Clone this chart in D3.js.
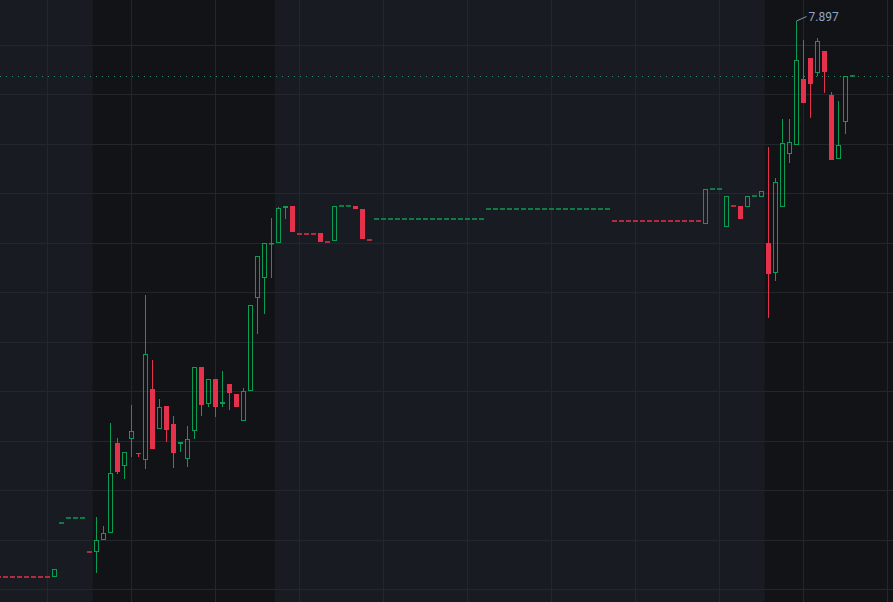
<!DOCTYPE html>
<html><head><meta charset="utf-8">
<script src="https://cdn.jsdelivr.net/npm/d3@7"></script>
<style>html,body{margin:0;padding:0;background:#181b21;overflow:hidden}</style>
</head><body>
<svg id="chart" width="893" height="602"></svg>
<script>
// candle index k runs from -1 to 121
const firstIndex = -1;
const opens = [
 5.648,5.648,5.648,5.648,5.648,5.648,5.648,5.648,
 5.647,5.868,5.888,5.888,5.888,5.748,
 5.748,5.797,5.828,6.189,6.097,6.207,6.149,6.122,6.409,6.246,6.339,6.267,6.188,6.127,6.238,6.498,6.347,6.448,6.347,6.428,6.387,6.278,6.402,6.777,6.857,6.997,6.998,7.141,7.149,
 7.037,7.037,7.037,7.038,7.004,7.006,7.148,7.148,7.149,7.138,7.013,
 7.096,7.096,7.096,7.096,7.096,7.096,7.096,7.096,7.096,7.096,7.096,7.096,7.096,7.096,7.096,7.096,
 7.138,7.138,7.138,7.138,7.138,7.138,7.138,7.138,7.138,7.138,7.138,7.138,7.138,7.138,7.138,7.138,7.138,7.138,
 7.088,7.088,7.088,7.088,7.088,7.088,7.088,7.088,7.088,7.088,7.088,7.088,7.088,
 7.076,7.218,7.218,7.065,7.148,7.148,7.146,7.188,7.187,
 6.998,6.877,7.146,7.358,7.397,7.662,7.747,7.688,7.777,7.597,7.339,7.487,7.676
];
const highs = [
 5.648,5.648,5.648,5.648,5.648,5.648,5.648,5.648,
 5.680,5.868,5.888,5.888,5.888,5.748,
 5.891,5.855,6.270,6.210,6.153,6.344,6.149,6.789,6.525,6.368,6.339,6.300,6.193,6.259,6.497,6.498,6.448,6.448,6.480,6.428,6.387,6.413,6.747,6.948,6.998,7.099,7.145,7.149,7.149,
 7.037,7.037,7.037,7.038,7.004,7.148,7.148,7.148,7.149,7.138,7.013,
 7.096,7.096,7.096,7.096,7.096,7.096,7.096,7.096,7.096,7.096,7.096,7.096,7.096,7.096,7.096,7.096,
 7.138,7.138,7.138,7.138,7.138,7.138,7.138,7.138,7.138,7.138,7.138,7.138,7.138,7.138,7.138,7.138,7.138,7.138,
 7.088,7.088,7.088,7.088,7.088,7.088,7.088,7.088,7.088,7.088,7.088,7.088,7.088,
 7.216,7.218,7.218,7.188,7.148,7.148,7.188,7.188,7.208,
 7.389,7.263,7.500,7.500,7.897,7.820,7.747,7.830,7.777,7.610,7.575,7.676,7.676
];
const lows = [
 5.648,5.648,5.648,5.648,5.648,5.648,5.648,5.648,
 5.647,5.868,5.888,5.888,5.888,5.748,
 5.666,5.797,5.828,6.065,6.045,6.135,6.134,6.085,6.165,6.246,6.195,6.091,6.155,6.095,6.205,6.300,6.335,6.296,6.336,6.325,6.336,6.278,6.402,6.630,6.713,6.857,6.998,7.095,7.045,
 7.037,7.037,7.037,7.005,7.004,7.006,7.148,7.148,7.136,7.015,7.013,
 7.096,7.096,7.096,7.096,7.096,7.096,7.096,7.096,7.096,7.096,7.096,7.096,7.096,7.096,7.096,7.096,
 7.138,7.138,7.138,7.138,7.138,7.138,7.138,7.138,7.138,7.138,7.138,7.138,7.138,7.138,7.138,7.138,7.138,7.138,
 7.088,7.088,7.088,7.088,7.088,7.088,7.088,7.088,7.088,7.088,7.088,7.088,7.088,
 7.076,7.218,7.218,7.065,7.148,7.095,7.146,7.188,7.187,
 6.695,6.846,7.146,7.321,7.397,7.567,7.506,7.675,7.605,7.336,7.339,7.439,7.676
];
const closes = [
 5.648,5.648,5.648,5.648,5.648,5.648,5.648,5.648,
 5.680,5.868,5.888,5.888,5.888,5.748,
 5.797,5.828,6.068,6.074,6.153,6.238,6.144,6.550,6.165,6.337,6.244,6.151,6.193,6.208,6.497,6.345,6.448,6.337,6.357,6.391,6.336,6.402,6.747,6.948,6.998,6.998,7.142,7.149,7.045,
 7.037,7.037,7.037,7.005,7.004,7.148,7.148,7.148,7.136,7.015,7.013,
 7.096,7.096,7.096,7.096,7.096,7.096,7.096,7.096,7.096,7.096,7.096,7.096,7.096,7.096,7.096,7.096,
 7.138,7.138,7.138,7.138,7.138,7.138,7.138,7.138,7.138,7.138,7.138,7.138,7.138,7.138,7.138,7.138,7.138,7.138,
 7.088,7.088,7.088,7.088,7.088,7.088,7.088,7.088,7.088,7.088,7.088,7.088,7.088,
 7.216,7.218,7.218,7.188,7.148,7.095,7.188,7.188,7.208,
 6.875,7.246,7.402,7.407,7.738,7.567,7.641,7.816,7.692,7.336,7.397,7.676,7.676
];
// shaded (out-of-session) ranges, in candle index units
const shadedStarts = [12.5, 108.5];
const shadedEnds = [38.5, 130];
const maxHighLabel = "7.897";
const lastPrice = 7.676;

const W = 893, H = 602;
const svg = d3.select("#chart");
const x = d3.scaleLinear().domain([-1, 121]).range([-1.7, 852.3]);
const y = d3.scaleLinear().domain([5.6, 7.8]).range([589, 45]);

const GREEN = "#0a9b55", RED = "#e5314b";

svg.append("rect").attr("width", W).attr("height", H).attr("fill", "#181b21");
svg.selectAll("rect.shade").data(shadedStarts).join("rect").attr("class","shade")
  .attr("x", (d) => x(d)).attr("y", 0)
  .attr("width", (d, i) => x(shadedEnds[i]) - x(d)).attr("height", H)
  .attr("fill", "#121316");

// grid
const hTicks = d3.range(5.0, 8.21, 0.2);
svg.append("g").selectAll("line").data(hTicks).join("line")
  .attr("x1", 0).attr("x2", W)
  .attr("y1", d => Math.round(y(d)) + 0.5).attr("y2", d => Math.round(y(d)) + 0.5)
  .attr("stroke", "#23262d").attr("stroke-width", 1);
const vTicks = d3.range(6, 140, 12);
svg.append("g").selectAll("line").data(vTicks).join("line")
  .attr("y1", 0).attr("y2", H)
  .attr("x1", d => Math.round(x(d)) + 0.5).attr("x2", d => Math.round(x(d)) + 0.5)
  .attr("stroke", "#23262d").attr("stroke-width", 1);

// build candles
const candles = opens.map((o, i) => ({k: firstIndex + i, o, h: highs[i], l: lows[i], c: closes[i]}));
let prevColor = "red";
candles.forEach((d, i) => {
  if (d.c > d.o) d.dir = "up";
  else if (d.c < d.o) d.dir = "down";
  else if (i > 0 && d.c > candles[i-1].c) d.dir = "up";
  else if (i > 0 && d.c < candles[i-1].c) d.dir = "down";
  else d.dir = prevColor === "up" ? "up" : "down";
  prevColor = d.dir;
  d.flat = (d.h === d.l);
});

// last price dotted line
svg.append("line").attr("x1", 0).attr("x2", W)
  .attr("y1", Math.round(y(lastPrice)) + 0.5).attr("y2", Math.round(y(lastPrice)) + 0.5)
  .attr("stroke", "#2f8a70").attr("stroke-width", 1).attr("stroke-dasharray", "1,5");

const g = svg.append("g");
candles.forEach(d => {
  const cx = Math.round(x(d.k));
  const col = d.dir === "up" ? GREEN : RED;
  if (d.flat) {
    g.append("rect").attr("x", cx - 2).attr("y", Math.round(y(d.c)) - 1)
      .attr("width", 5).attr("height", 2).attr("fill", col).attr("opacity", 0.75);
    return;
  }
  const top = Math.min(y(d.o), y(d.c)), bot = Math.max(y(d.o), y(d.c));
  const yt = Math.round(top), yb = Math.max(Math.round(bot), yt + 1);
  const yh = Math.round(y(d.h)), yl = Math.round(y(d.l));
  if (yh < yt) g.append("line").attr("x1", cx + 0.5).attr("x2", cx + 0.5).attr("y1", yh).attr("y2", yt).attr("stroke", col);
  if (yl > yb) g.append("line").attr("x1", cx + 0.5).attr("x2", cx + 0.5).attr("y1", yb).attr("y2", yl).attr("stroke", col);
  if (d.dir === "up") {
    g.append("rect").attr("x", cx - 1.5).attr("y", yt + 0.5)
      .attr("width", 4).attr("height", Math.max(yb - yt - 1, 0.5))
      .attr("fill", "none").attr("stroke", col).attr("stroke-width", 1);
  } else {
    g.append("rect").attr("x", cx - 2).attr("y", yt)
      .attr("width", 5).attr("height", Math.max(yb - yt, 1)).attr("fill", col);
  }
});

// max high label
const maxIdx = d3.maxIndex(highs);
const mx = Math.round(x(firstIndex + maxIdx)) + 0.5, my = Math.round(y(highs[maxIdx]));
svg.append("line").attr("x1", mx).attr("y1", my).attr("x2", mx + 10).attr("y2", my - 4.5)
  .attr("stroke", "#8a93a3").attr("stroke-width", 1);
svg.append("text").attr("x", mx + 12).attr("y", my - 0.5)
  .attr("font-family", "Roboto, 'Noto Sans', sans-serif").attr("font-size", 12)
  .attr("fill", "#8fa5c8").text(maxHighLabel);
</script>
</body></html>
